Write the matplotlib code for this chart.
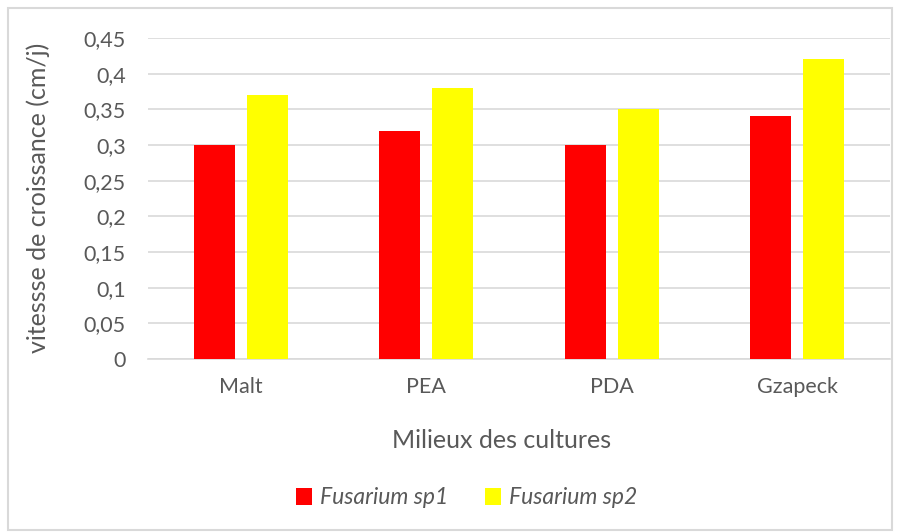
import numpy as np
import matplotlib
matplotlib.use('Agg')
import matplotlib.pyplot as plt
from matplotlib.patches import Rectangle

####################################################################################

categories = ['Malt', 'PEA', 'PDA', 'Gzapeck']
sp1_values = [0.30, 0.32, 0.30, 0.34]
sp2_values = [0.37, 0.38, 0.35, 0.42]
series_labels = ['Fusarium sp1', 'Fusarium sp2']
y_ticks = [0, 0.05, 0.1, 0.15, 0.2, 0.25, 0.3, 0.35, 0.4, 0.45]

TEXT_RGB = '#595959'
GRID_RGB = '#d9d9d9'
RED_RGB = '#ff0000'
YELLOW_RGB = '#ffff00'

plt.rcParams['font.family'] = ['Lato', 'DejaVu Sans']

####################################################################################

W, H = 901, 532
figure = plt.figure(figsize=(W / 100, H / 100), dpi=100)
axes = figure.add_axes([148 / W, 1 - 359 / H, (890 - 148) / W, (359 - 38) / H])

x = np.arange(len(categories))
bar_width = 0.221
offset = 0.143
axes.bar(x - offset, sp1_values, bar_width, color=RED_RGB, label=series_labels[0], zorder=3)
axes.bar(x + offset, sp2_values, bar_width, color=YELLOW_RGB, label=series_labels[1], zorder=3)

axes.set_xlim(-0.5, len(categories) - 0.5)
axes.set_ylim(0, 0.45)
axes.set_yticks(y_ticks)
axes.set_yticklabels([('%g' % t).replace('.', ',') for t in y_ticks])
axes.set_xticks(x)
axes.set_xticklabels(categories)
axes.tick_params(axis='both', length=0, labelsize=15.5, colors=TEXT_RGB)
axes.tick_params(axis='y', pad=16)
axes.tick_params(axis='x', pad=13)
axes.grid(axis='y', color=GRID_RGB, linewidth=1.2, zorder=0)
for side in ['top', 'right', 'left']:
    axes.spines[side].set_visible(False)
axes.spines['bottom'].set_color(GRID_RGB)
axes.spines['bottom'].set_linewidth(1.2)

figure.text(38 / W, 1 - 198 / H, 'vitessse de croissance (cm/j)', rotation=90,
            ha='center', va='center', fontsize=18, color=TEXT_RGB)
figure.text(502 / W, 1 - 440 / H, 'Milieux des cultures',
            ha='center', va='center', fontsize=18, color=TEXT_RGB)

legend = figure.legend(loc='center', bbox_to_anchor=(467 / W, 1 - 498 / H), ncol=2,
                       frameon=False, fontsize=16.5, handlelength=0.7, handleheight=0.7,
                       columnspacing=1.6, handletextpad=0.35)
for text in legend.get_texts():
    text.set_color(TEXT_RGB)
    text.set_style('italic')

figure.patches.append(Rectangle((8 / W, 2 / H), (892 - 8) / W, (524 - 2) / H,
                                transform=figure.transFigure, fill=False,
                                edgecolor=GRID_RGB, linewidth=1.5))

plt.savefig('out.png', dpi=100)
